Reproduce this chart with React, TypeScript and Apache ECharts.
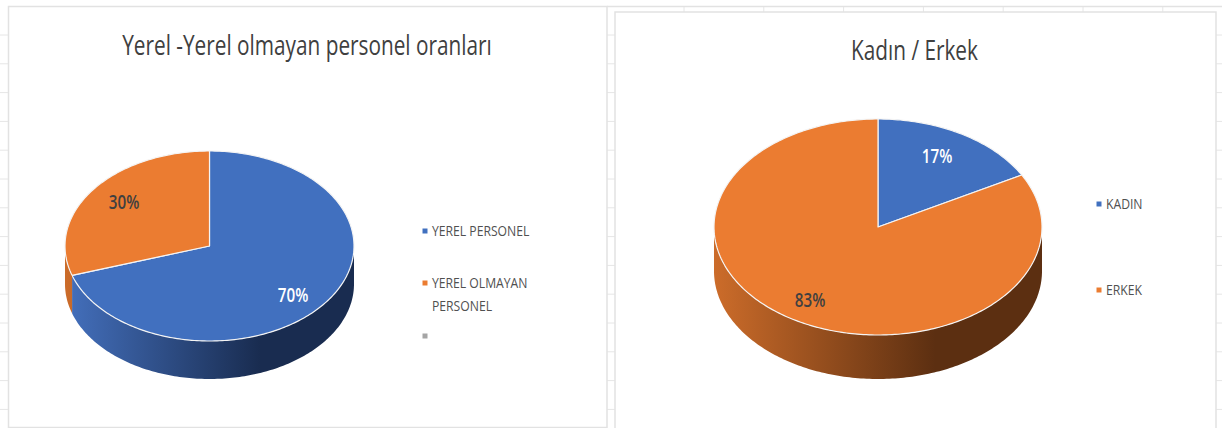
import React, { useEffect, useRef } from "react";
import * as echarts from "echarts";

const leftTitle = "Yerel -Yerel olmayan personel oranları";
const leftCategories = ["YEREL PERSONEL", "YEREL OLMAYAN\nPERSONEL", ""];
const leftValues = [70, 30, 0];
const rightTitle = "Kadın / Erkek";
const rightCategories = ["KADIN", "ERKEK"];
const rightValues = [17, 83];

const BLUE = "#4170bf";
const ORANGE = "#eb7c31";
const GREY = "#a5a5a5";
const leftColors = [BLUE, ORANGE, GREY];
const rightColors = [BLUE, ORANGE];
const blueWall = ["#4470bd", "#192c50"];
const orangeWall = ["#cc6c2a", "#5c2f11"];

const FONT = "'Open Sans', sans-serif";

type Pie = {
  cx: number; cy: number; rx: number; ry: number; depth: number;
  colors: string[]; walls: string[][];
  labels: { x: number; y: number; color: string }[];
};

const leftPie: Pie = {
  cx: 209.5, cy: 246, rx: 144.5, ry: 95, depth: 38,
  colors: leftColors, walls: [blueWall, orangeWall, blueWall],
  labels: [{ x: 293, y: 294, color: "#ffffff" }, { x: 124, y: 201, color: "#404040" }, { x: 0, y: 0, color: "#404040" }],
};
const rightPie: Pie = {
  cx: 878, cy: 227, rx: 164, ry: 108, depth: 44,
  colors: rightColors, walls: [blueWall, orangeWall],
  labels: [{ x: 937, y: 155, color: "#ffffff" }, { x: 810, y: 299, color: "#404040" }],
};

const pt = (p: Pie, f: number, dy = 0) => {
  const a = f * 2 * Math.PI;
  return [p.cx + p.rx * Math.sin(a), p.cy - p.ry * Math.cos(a) + dy];
};

const arc = (p: Pie, f0: number, f1: number, dy = 0) => {
  const n = Math.max(2, Math.ceil((f1 - f0) * 360));
  const out: number[][] = [];
  for (let i = 0; i <= n; i++) out.push(pt(p, f0 + ((f1 - f0) * i) / n, dy));
  return out;
};

const pieRenderer = (p: Pie) => (params: any, api: any) => {
  const value = api.value(0);
  if (!value) return { type: "group", children: [] };
  const start = api.value(1) / 100;
  const end = start + value / 100;
  const children: any[] = [];
  const w0 = Math.max(start, 0.25);
  const w1 = Math.min(end, 0.75);
  if (w1 > w0) {
    const stops = p.walls[params.dataIndex];
    children.push({
      type: "polygon",
      shape: { points: [...arc(p, w0, w1), ...arc(p, w0, w1, p.depth).reverse()] },
      style: {
        fill: new echarts.graphic.LinearGradient(
          p.cx - p.rx, 0, p.cx + 0.35 * p.rx, 0,
          [{ offset: 0, color: stops[0] }, { offset: 1, color: stops[1] }],
          true
        ),
      },
    });
  }
  children.push({
    type: "polygon",
    shape: { points: [[p.cx, p.cy], ...arc(p, start, end)] },
    style: { fill: p.colors[params.dataIndex], stroke: "#f4f4f4", lineWidth: 1.2, lineJoin: "round" },
  });
  return { type: "group", children };
};

const rows = (values: number[]) => {
  let acc = 0;
  return values.map((v) => {
    const r = [v, acc];
    acc += v;
    return r;
  });
};

const pctLabels = (values: number[], p: Pie) =>
  values
    .map((v, i) => ({ v, l: p.labels[i] }))
    .filter((d) => d.v > 0)
    .map((d) => ({
      type: "text",
      x: d.l.x,
      y: d.l.y,
      scaleX: 0.76,
      z: 20,
      style: {
        text: `${d.v}%`,
        fill: d.l.color,
        font: `600 20px ${FONT}`,
        align: "center",
        verticalAlign: "middle",
      },
    }));

const legendItem = (text: string, color: string, x: number, y: number) => [
  { type: "rect", shape: { x: x - 2.5, y: y - 2.5, width: 5, height: 5 }, style: { fill: color }, z: 20 },
  {
    type: "text",
    x: x + 7,
    y: y - 12,
    scaleX: 0.87,
    z: 20,
    style: { text, fill: "#505050", font: `14px ${FONT}`, lineHeight: 23, verticalAlign: "top", align: "left" },
  },
];

const LINE = "#e6e6e6";
const gridLines = () => {
  const out: any[] = [];
  for (let y = 35; y < 428; y += 28.8) {
    out.push({ type: "line", shape: { x1: 0, y1: y, x2: 1222, y2: y }, style: { stroke: LINE, lineWidth: 1 }, z: 0 });
  }
  for (let x = 684; x < 1222; x += 79.8) {
    out.push({ type: "line", shape: { x1: x, y1: 7, x2: x, y2: 428 }, style: { stroke: LINE, lineWidth: 1 }, z: 0 });
  }
  out.push({ type: "line", shape: { x1: 607, y1: 6.5, x2: 1222, y2: 6.5 }, style: { stroke: "#e2e2e2", lineWidth: 1.5 }, z: 0 });
  return out;
};

const panel = (x: number, y: number, w: number, h: number) => ({
  type: "rect",
  shape: { x, y, width: w, height: h },
  style: { fill: "#ffffff", stroke: "#e2e2e2", lineWidth: 1.5 },
  z: 1,
});

const title = (text: string, x: number, y: number) => ({
  type: "text",
  x,
  y,
  scaleX: 0.77,
  z: 20,
  style: { text, fill: "#404040", font: `27px ${FONT}`, align: "center", verticalAlign: "middle" },
});

export default function App() {
  const ref = useRef<HTMLDivElement>(null);
  useEffect(() => {
    const chart = echarts.init(ref.current!, null, { renderer: "svg" });
    chart.setOption({
      animation: false,
      backgroundColor: "#ffffff",
      graphic: {
        elements: [
          ...gridLines(),
          panel(8.5, 6.5, 598.5, 421),
          panel(615, 12, 601, 417),
          title(leftTitle, 307, 44),
          title(rightTitle, 914.5, 49),
          ...pctLabels(leftValues, leftPie),
          ...pctLabels(rightValues, rightPie),
          ...legendItem(leftCategories[0], leftColors[0], 425, 231),
          ...legendItem(leftCategories[1], leftColors[1], 425, 283),
          ...legendItem(leftCategories[2], leftColors[2], 425, 336),
          ...legendItem(rightCategories[0], rightColors[0], 1099, 204),
          ...legendItem(rightCategories[1], rightColors[1], 1099, 290),
        ],
      },
      series: [
        { type: "custom", name: leftTitle, coordinateSystem: "none", z: 5, data: rows(leftValues), renderItem: pieRenderer(leftPie), silent: true },
        { type: "custom", name: rightTitle, coordinateSystem: "none", z: 5, data: rows(rightValues), renderItem: pieRenderer(rightPie), silent: true },
      ],
    });
    return () => chart.dispose();
  }, []);
  return <div ref={ref} style={{ position: "fixed", left: 0, top: 0, width: 1222, height: 428 }} />;
}
